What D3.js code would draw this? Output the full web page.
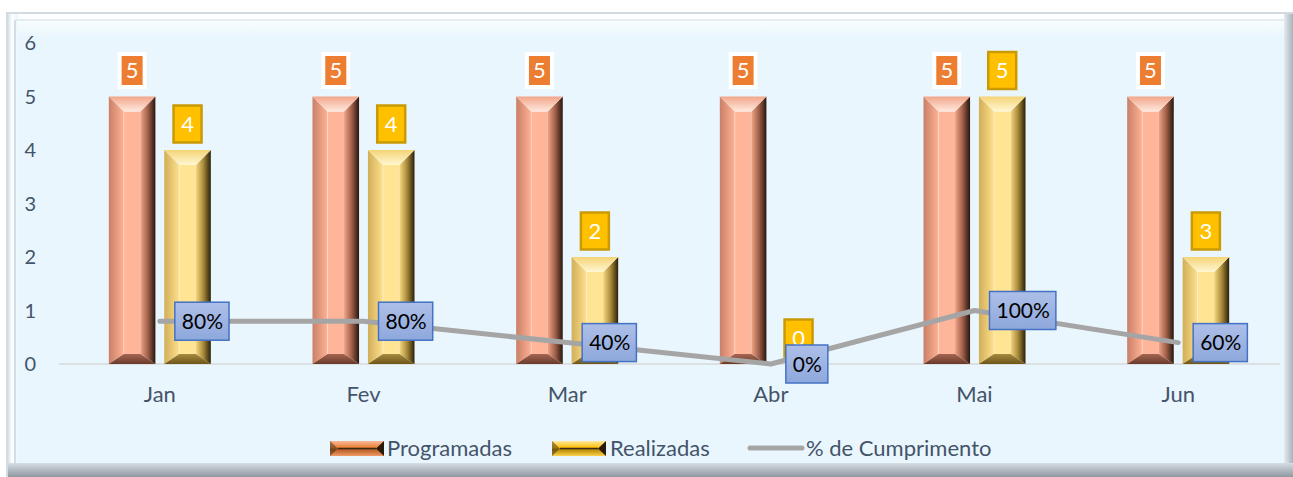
<style>body { margin: 0; } svg { display: block; }</style>
<svg width="1293" height="477"></svg>

<script src="https://d3js.org/d3.v7.min.js"></script>
<script>
	// Programadas x Realizadas com % de cumprimento
	const meses = ["Jan", "Fev", "Mar", "Abr", "Mai", "Jun"]
	const programadas = [5, 5, 5, 5, 5, 5]
	const realizadas = [4, 4, 2, 0, 5, 2]
	const realizadasRotulo = [4, 4, 2, 0, 5, 3]
	const cumprimento = [0.8, 0.8, 0.4, 0, 1.0, 0.4]
	const cumprimentoRotulo = ["80%", "80%", "40%", "0%", "100%", "60%"]
	const yTicks = [0, 1, 2, 3, 4, 5, 6]
	const series = ["Programadas", "Realizadas"]

	const width = 1293
	const height = 477
	const font = "Lato, 'Open Sans', sans-serif"
	const txt = "#44546a"

	const svg = d3.select("svg")
		.attr("font-family", font)
	const defs = svg.append("defs")

	function grad(id, stops, x2, y2) {
		const g = defs.append("linearGradient").attr("id", id)
			.attr("x1", 0).attr("y1", 0).attr("x2", x2).attr("y2", y2)
		stops.forEach(([o, c]) => g.append("stop").attr("offset", o).attr("stop-color", c))
	}

	// frame gradients
	grad("frameTop", [[0, "#ffffff"], [1, "#eaf6fd"]], 0, 1)
	grad("frameLeft", [[0, "#d8e0e6"], [0.4, "#ffffff"], [1, "#eaf6fd"]], 1, 0)
	grad("frameRight", [[0, "#e4ecf1"], [1, "#a9b2ba"]], 1, 0)
	grad("frameBottom", [[0, "#d6dde3"], [1, "#8f98a1"]], 0, 1)

	// bevel colours per series
	const bevel = {
		Programadas: {
			face: "#ffb59a",
			left: [[0, "#c98068"], [1, "#ffb194"]],
			right: [[0, "#f0a486"], [0.5, "#a0604a"], [1, "#26160e"]],
			top: [[0, "#f2a68a"], [1, "#ffe9de"]],
			bottom: [[0, "#a56652"], [1, "#6a3a2a"]],
			label: "#ed7d31", labelStroke: "#ffffff"
		},
		Realizadas: {
			face: "#ffe493",
			left: [[0, "#d2ae58"], [1, "#fde08e"]],
			right: [[0, "#f7d880"], [0.5, "#a88a3a"], [1, "#2a2008"]],
			top: [[0, "#f5d477"], [1, "#fff7d2"]],
			bottom: [[0, "#a68a40"], [1, "#6e5618"]],
			label: "#ffc000", labelStroke: "#c99a06"
		}
	}
	series.forEach(s => {
		const b = bevel[s]
		grad(s + "L", b.left, 1, 0)
		grad(s + "R", b.right, 1, 0)
		grad(s + "T", b.top, 0, 1)
		grad(s + "B", b.bottom, 0, 1)
	})
	grad("pctBox", [[0, "#adbfe8"], [1, "#8ea8dc"]], 0, 1)

	// background / frame
	svg.append("rect").attr("width", width).attr("height", height).attr("fill", "#ffffff")
	svg.append("rect").attr("x", 7).attr("y", 13).attr("width", width - 7).attr("height", height - 13)
		.attr("fill", "#eaf6fd").attr("stroke", "#d3dbe2").attr("stroke-width", 2)
	svg.append("rect").attr("x", 8).attr("y", 14).attr("width", 10).attr("height", 450).attr("fill", "url(#frameLeft)")
	svg.append("rect").attr("x", 18).attr("y", 14).attr("width", 1266).attr("height", 22).attr("fill", "url(#frameTop)")
	svg.append("rect").attr("x", 1284).attr("y", 14).attr("width", 9).attr("height", 463).attr("fill", "url(#frameRight)")
	svg.append("rect").attr("x", 8).attr("y", 463).attr("width", 1285).attr("height", 14).attr("fill", "url(#frameBottom)")
	svg.append("line").attr("x1", 15).attr("x2", 15).attr("y1", 20).attr("y2", 463)
		.attr("stroke", "#c9d3db").attr("stroke-width", 1.5)
	svg.append("line").attr("x1", 15).attr("x2", 1284).attr("y1", 20).attr("y2", 20)
		.attr("stroke", "#dfe7ed").attr("stroke-width", 1.5)

	// scales
	const x0 = d3.scaleBand().domain(meses).range([58, 1280]).padding(0)
	const x1 = d3.scaleBand().domain(series)
		.range([x0.bandwidth() / 2 - 51, x0.bandwidth() / 2 + 51]).paddingInner(0.16)
	const y = d3.scaleLinear().domain([0, 6]).range([364, 43])

	// y labels
	svg.append("g").selectAll("text").data(yTicks).join("text")
		.attr("x", 36).attr("y", d => y(d)).attr("dy", "0.35em")
		.attr("text-anchor", "end").attr("font-size", 20).attr("fill", txt)
		.text(d => d)

	// baseline
	svg.append("line").attr("x1", 59).attr("x2", 1280).attr("y1", y(0)).attr("y2", y(0))
		.attr("stroke", "#d9d9d9").attr("stroke-width", 1.5)

	// x labels
	svg.append("g").selectAll("text").data(meses).join("text")
		.attr("x", d => x0(d) + x0.bandwidth() / 2).attr("y", 402)
		.attr("text-anchor", "middle").attr("font-size", 22).attr("fill", txt)
		.text(d => d)

	const barData = []
	meses.forEach((m, i) => {
		barData.push({mes: m, s: "Programadas", v: programadas[i], rot: programadas[i]})
		barData.push({mes: m, s: "Realizadas", v: realizadas[i], rot: realizadasRotulo[i]})
	})

	function drawBevel(g, d) {
		const bx = x0(d.mes) + x1(d.s), bw = x1.bandwidth()
		const by = y(d.v), bh = y(0) - y(d.v)
		if (bh <= 0) return
		const b = Math.min(15, bw / 3), bt = Math.min(15, bh / 2), bb = Math.min(10, bh / 3)
		const c = bevel[d.s]
		const pts = a => a.map(p => p.join(",")).join(" ")
		g.append("rect").attr("x", bx + b).attr("y", by + bt).attr("width", bw - 2 * b)
			.attr("height", Math.max(0, bh - bt - bb)).attr("fill", c.face)
		g.append("polygon").attr("fill", `url(#${d.s}L)`)
			.attr("points", pts([[bx, by], [bx + b, by + bt], [bx + b, by + bh - bb], [bx, by + bh]]))
		g.append("polygon").attr("fill", `url(#${d.s}R)`)
			.attr("points", pts([[bx + bw, by], [bx + bw, by + bh], [bx + bw - b, by + bh - bb], [bx + bw - b, by + bt]]))
		g.append("polygon").attr("fill", `url(#${d.s}T)`)
			.attr("points", pts([[bx, by], [bx + bw, by], [bx + bw - b, by + bt], [bx + b, by + bt]]))
		g.append("polygon").attr("fill", `url(#${d.s}B)`)
			.attr("points", pts([[bx, by + bh], [bx + b, by + bh - bb], [bx + bw - b, by + bh - bb], [bx + bw, by + bh]]))
		g.append("line").attr("x1", bx + b).attr("x2", bx + b).attr("y1", by + bt).attr("y2", by + bh - bb)
			.attr("stroke", "#ffffff").attr("stroke-opacity", 0.35)
	}

	const bars = svg.append("g")
	barData.forEach(d => drawBevel(bars.append("g"), d))

	// % line
	const linePts = meses.map((m, i) => [x0(m) + x0.bandwidth() / 2, y(cumprimento[i])])
	svg.append("path")
		.attr("d", d3.line()(linePts))
		.attr("fill", "none").attr("stroke", "#a5a5a5").attr("stroke-width", 5)
		.attr("stroke-linecap", "round").attr("stroke-linejoin", "round")

	// bar labels
	const bl = svg.append("g").selectAll("g").data(barData).join("g")
		.attr("transform", d => `translate(${x0(d.mes) + x1(d.s) + x1.bandwidth() / 2},${y(d.v) - 26})`)
	bl.append("rect")
		.attr("x", d => d.s === "Programadas" ? -12.5 : -14)
		.attr("y", d => d.s === "Programadas" ? -16.5 : -18.5)
		.attr("width", d => d.s === "Programadas" ? 25 : 28)
		.attr("height", d => d.s === "Programadas" ? 33 : 37)
		.attr("fill", d => bevel[d.s].label)
		.attr("stroke", d => bevel[d.s].labelStroke)
		.attr("stroke-width", d => d.s === "Programadas" ? 4 : 2.5)
	bl.append("text").attr("text-anchor", "middle").attr("dy", "0.36em")
		.attr("font-size", 22).attr("fill", "#ffffff").text(d => d.rot)

	// % labels
	const pl = svg.append("g").selectAll("g").data(linePts).join("g")
		.attr("transform", d => `translate(${d[0] + 15},${d[1]})`)
	pl.append("text").attr("x", 7).attr("dy", "0.36em")
		.attr("font-size", 21).attr("fill", "#000000")
		.text((d, i) => cumprimentoRotulo[i])
	pl.each(function() {
		const g = d3.select(this)
		const w = g.select("text").node().getComputedTextLength() + 13
		g.insert("rect", "text").attr("x", 0).attr("y", -19).attr("width", w).attr("height", 38)
			.attr("fill", "url(#pctBox)").attr("stroke", "#4472c4").attr("stroke-width", 1.5)
	})

	// legend
	const leg = svg.append("g").attr("font-size", 22).attr("fill", txt)
	const legItems = [
		{s: "Programadas", x: 330, tx: 387},
		{s: "Realizadas", x: 552, tx: 610},
		{s: "% de Cumprimento", x: 750, tx: 806}
	]
	grad("legP", [[0, "#f7b99a"], [0.45, "#ed7d31"], [0.55, "#b35a22"], [1, "#f09a66"]], 0, 1)
	grad("legR", [[0, "#ffe9a0"], [0.45, "#ffc000"], [0.55, "#b38600"], [1, "#ffd24d"]], 0, 1)
	legItems.forEach(it => {
		if (it.s === "% de Cumprimento") {
			leg.append("line").attr("x1", it.x).attr("x2", it.x + 52).attr("y1", 448).attr("y2", 448)
				.attr("stroke", "#a5a5a5").attr("stroke-width", 5).attr("stroke-linecap", "round")
		} else {
			const c = it.s === "Programadas" ? "legP" : "legR"
			leg.append("rect").attr("x", it.x).attr("y", 441).attr("width", 54).attr("height", 15)
				.attr("fill", `url(#${c})`)
			leg.append("line").attr("x1", it.x + 8).attr("x2", it.x + 46).attr("y1", 448.5).attr("y2", 448.5)
				.attr("stroke", "#3a2a18").attr("stroke-width", 1.5)
			leg.append("polygon").attr("fill", "#3a2a18")
				.attr("points", `${it.x},441 ${it.x + 8},448.5 ${it.x},456`)
				.attr("fill-opacity", 0.5)
			leg.append("polygon").attr("fill", "#2a1a08")
				.attr("points", `${it.x + 54},441 ${it.x + 46},448.5 ${it.x + 54},456`)
		}
		leg.append("text").attr("x", it.tx).attr("y", 448).attr("dy", "0.35em").text(it.s)
	})
</script>
